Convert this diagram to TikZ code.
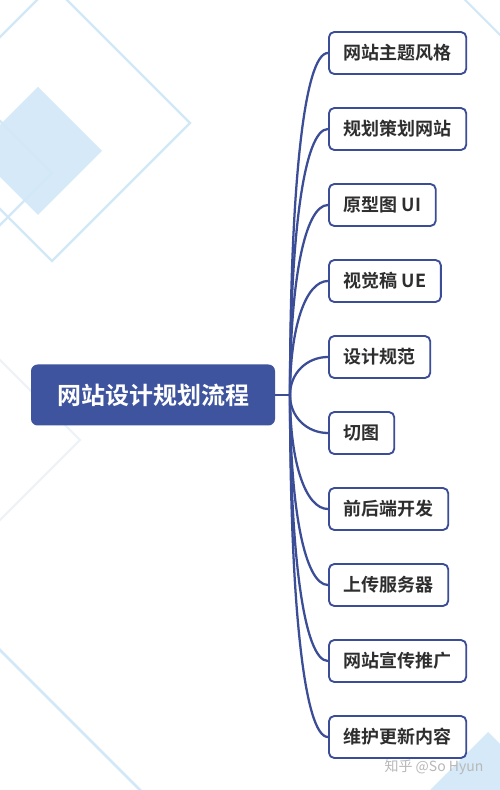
\documentclass[tikz,border=0pt]{standalone}
\usepackage{fontspec}
\setmainfont{Noto Sans CJK SC}[BoldFont={Noto Sans CJK SC Bold}]

\definecolor{navy}{HTML}{3E549E}
\definecolor{linkblue}{HTML}{3B4D96}
\definecolor{paleblue}{HTML}{D6E9F8}
\definecolor{lineblue}{HTML}{D3E8F7}
\definecolor{faintblue}{HTML}{EDF2F8}
\definecolor{leaftext}{HTML}{2E2E2E}

\tikzset{
  root/.style={fill=navy, text=white, rounded corners=5pt, minimum width=183pt,
    minimum height=45.75pt, font=\fontsize{18}{22}\selectfont\bfseries},
  leaf/.style={draw=linkblue, line width=1.4pt, rounded corners=4pt, fill=white,
    anchor=west, minimum height=31.5pt, inner xsep=11pt, text=leaftext,
    font=\fontsize{13.5}{16}\selectfont\bfseries},
  link/.style={draw=linkblue, line width=1.7pt},
  deco/.style={draw=lineblue, line width=1.6pt},
}

\begin{document}
\begin{tikzpicture}[x=0.75pt, y=0.75pt]
\useasboundingbox (0,0) rectangle (500,790);
\fill[white] (0,0) rectangle (500,790);

%% background diamonds
\begin{scope}
\clip (0,0) rectangle (500,790);
\fill[paleblue] (38,639) ++(64,0) -- ++(-64,64) -- ++(-64,-64) -- ++(64,-64) -- cycle;
\draw[deco] (52,667) ++(138,0) -- ++(-138,138) -- ++(-138,-138) -- ++(138,-138) -- cycle;
\draw[deco] (-48,617) ++(100,0) -- ++(-100,100) -- ++(-100,-100) -- ++(100,-100) -- cycle;
\draw[draw=faintblue, line width=1.4pt] (-20,350) ++(100,0) -- ++(-100,100) -- ++(-100,-100) -- ++(100,-100) -- cycle;
\draw[deco, line width=2pt] (-10,150) -- (150,-10);
\draw[deco] (455,800) -- (510,745);
\fill[paleblue] (488,-2) ++(60,0) -- ++(-60,60) -- ++(-60,-60) -- ++(60,-60) -- cycle;
\end{scope}

%% root and hub
\node[root] (main) at (153,395) {网站设计规划流程};
\coordinate (hub) at (290,395);

%% leaves
\node[leaf] (l1) at (328,737) {网站主题风格};
\node[leaf] (l2) at (328,661) {规划策划网站};
\node[leaf] (l3) at (328,585) {原型图 UI};
\node[leaf] (l4) at (328,509) {视觉稿 UE};
\node[leaf] (l5) at (328,433) {设计规范};
\node[leaf] (l6) at (328,357) {切图};
\node[leaf] (l7) at (328,281) {前后端开发};
\node[leaf] (l8) at (328,205) {上传服务器};
\node[leaf] (l9) at (328,129) {网站宣传推广};
\node[leaf] (l10) at (328,53) {维护更新内容};

%% connectors
\draw[link] (main.east) -- (hub);
\draw[link] (hub) .. controls +(0,206) and +(-24,0) .. (l1.west);
\draw[link] (hub) .. controls +(0,160) and +(-24,0) .. (l2.west);
\draw[link] (hub) .. controls +(0,115) and +(-23,0) .. (l3.west);
\draw[link] (hub) .. controls +(0,69) and +(-22,0) .. (l4.west);
\draw[link] (hub) .. controls +(0,22) and +(-21,0) .. (l5.west);
\draw[link] (hub) .. controls +(0,-22) and +(-21,0) .. (l6.west);
\draw[link] (hub) .. controls +(0,-69) and +(-22,0) .. (l7.west);
\draw[link] (hub) .. controls +(0,-115) and +(-23,0) .. (l8.west);
\draw[link] (hub) .. controls +(0,-160) and +(-24,0) .. (l9.west);
\draw[link] (hub) .. controls +(0,-206) and +(-24,0) .. (l10.west);

%% watermark
\node[text=black!28, font=\fontsize{10.5}{12}\selectfont] (mark) at (434,23) {知乎 @So Hyun};

\end{tikzpicture}
\end{document}
